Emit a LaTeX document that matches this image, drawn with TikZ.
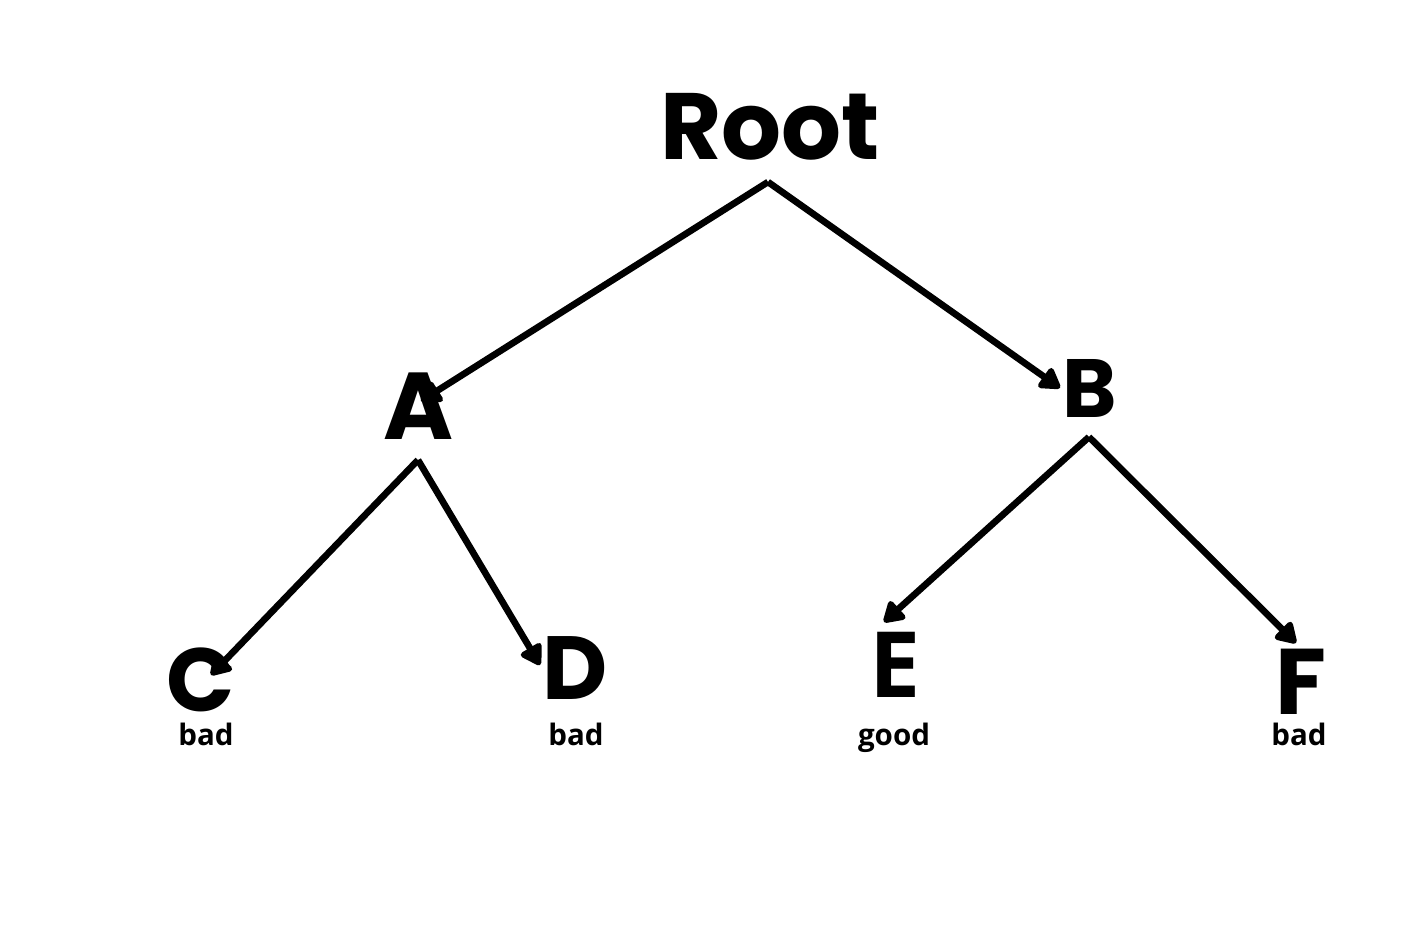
\documentclass[tikz,border=0pt]{standalone}
\usepackage{fontspec}
\setmainfont{Poppins}
\newfontfamily\opensans{Open Sans}
\usetikzlibrary{arrows.meta}
\begin{document}
\begin{tikzpicture}[x=0.01cm,y=-0.01cm]
			\tikzstyle{fleche}=[-{Triangle[length=6.5pt,width=7.5pt,round]},line width=1.9pt,line join=miter]
			\tikzstyle{noeud}=[inner sep=0pt,anchor=base,font=\bfseries]
			\tikzstyle{etiquette}=[inner sep=0pt,anchor=base,font=\opensans\bfseries\fontsize{8.4}{9}\selectfont]
			\useasboundingbox (0,0) rectangle (1414,949);
			\node[noeud,font=\bfseries\fontsize{26.8}{29}\selectfont] (R) at (770,160) {Root};
			\node[noeud,font=\bfseries\fontsize{27}{30}\selectfont] (Ra) at (418,440) {A};
			\node[noeud,font=\bfseries\fontsize{23.5}{26}\selectfont] (Rb) at (1090,418) {B};
			\node[noeud,font=\bfseries\fontsize{25.5}{28}\selectfont] (Raa) at (201,712) {C};
			\node[noeud,font=\bfseries\fontsize{25.5}{28}\selectfont] (Rab) at (575,700) {D};
			\node[noeud,font=\opensans\bfseries\fontsize{26}{28}\selectfont] (Rba) at (895,698) {E};
			\node[noeud,font=\bfseries\fontsize{26.5}{29}\selectfont] (Rbb) at (1301,715) {F};
			\node[etiquette] (Laa) at (206,746) {bad};
			\node[etiquette] (Lab) at (576,746) {bad};
			\node[etiquette] (Lba) at (894,746) {good};
			\node[etiquette] (Lbb) at (1299,746) {bad};
			% points de depart et d'arrivee des fleches
			\coordinate (R-out) at (768,182);
			\coordinate (Ra-out) at (418,460);
			\coordinate (Rb-out) at (1089,437);
			\coordinate (Ra-in) at (421,401);
			\coordinate (Rb-in) at (1060,388);
			\coordinate (Raa-in) at (211,675);
			\coordinate (Rab-in) at (540,665);
			\coordinate (Rba-in) at (884,622);
			\coordinate (Rbb-in) at (1296,643);
			\draw[fleche] (R-out)--(Ra-in);
			\draw[fleche] (R-out)--(Rb-in);
			\draw[fleche] (Ra-out)--(Raa-in);
			\draw[fleche] (Ra-out)--(Rab-in);
			\draw[fleche] (Rb-out)--(Rba-in);
			\draw[fleche] (Rb-out)--(Rbb-in);
		\end{tikzpicture}
\end{document}
